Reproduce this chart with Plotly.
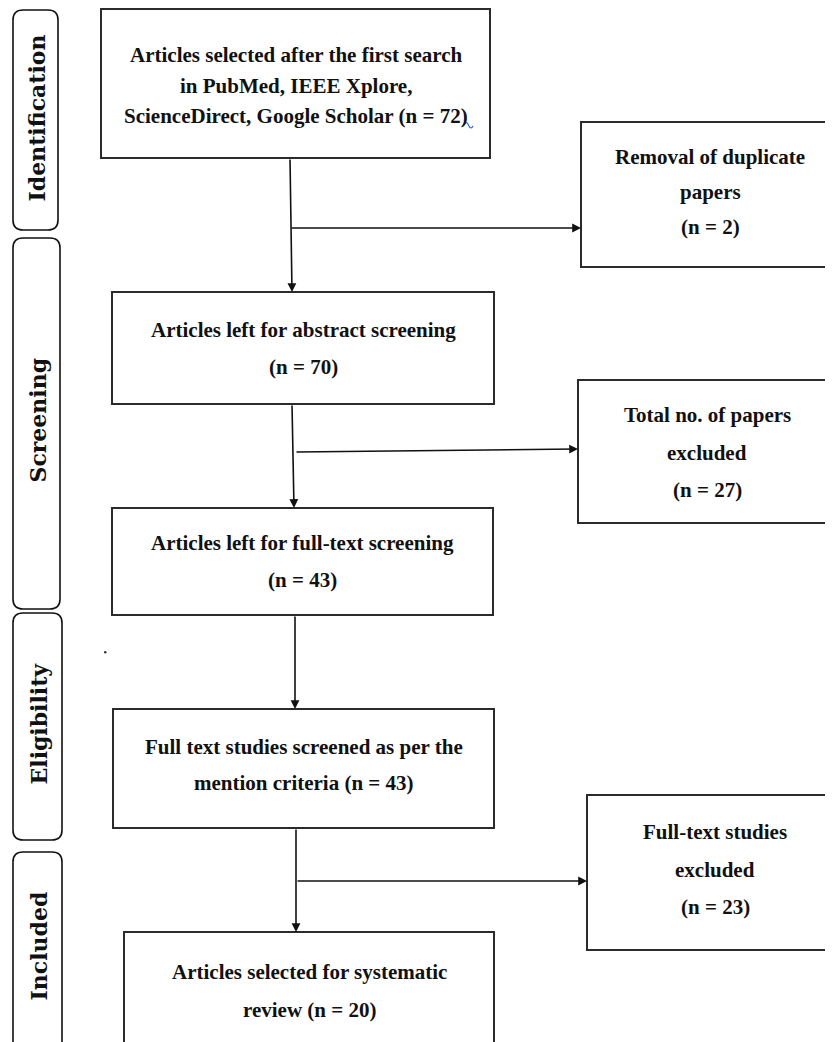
import plotly.graph_objects as go

# --- data ---
stage_labels = ["Identification", "Screening", "Eligibility", "Included"]

main_counts = [72, 70, 43, 43, 20]
main_texts = [
    ["Articles selected after the first search", "in PubMed, IEEE Xplore,", "ScienceDirect, Google Scholar (n = {})"],
    ["Articles left for abstract screening", "(n = {})"],
    ["Articles left for full-text screening", "(n = {})"],
    ["Full text studies screened as per the", "mention criteria (n = {})"],
    ["Articles selected for systematic", "review (n = {})"],
]

excl_counts = [2, 27, 23]
excl_texts = [
    ["Removal of duplicate", "papers", "(n = {})"],
    ["Total no. of papers", "excluded", "(n = {})"],
    ["Full-text studies", "excluded", "(n = {})"],
]

# --- layout geometry (pixels, y downwards) ---
W, H = 833, 1042
PAD = 8  # page body margin; the axes are offset so pixel coords match the window
stage_boxes = [(13, 58, 10, 230), (13, 60, 238, 609), (13, 62, 613, 840), (13, 62, 852, 1060)]
stage_text_y = [118, 420, 724, 946]

main_boxes = [(101, 490, 9, 158), (112, 494, 292, 404), (112, 493, 508, 615),
              (113, 494, 709, 828), (124, 494, 932, 1060)]
main_first = [55, 330, 543, 747, 972]
main_gap = [30.5, 37, 37, 36, 38]

excl_boxes = [(581, 860, 122, 267), (578, 860, 380, 523), (587, 860, 795, 950)]
excl_first = [157, 415, 832]
excl_gap = [35, 37.5, 37.5]
excl_cx = [710, 707, 715]

BORDER = "#2b2b2b"
TXT_FONT = dict(family="Liberation Serif, Times New Roman, serif", size=21, color="#111", weight="bold")
SIDE_FONT = dict(family="DejaVu Serif, serif", size=22, color="#111", weight="bold")


def rounded(x0, x1, y0, y1, r=10):
    return (f"M{x0+r},{y0} L{x1-r},{y0} Q{x1},{y0} {x1},{y0+r} L{x1},{y1-r} Q{x1},{y1} {x1-r},{y1} "
            f"L{x0+r},{y1} Q{x0},{y1} {x0},{y1-r} L{x0},{y0+r} Q{x0},{y0} {x0+r},{y0} Z")


fig = go.Figure()
fig.add_trace(go.Scatter(x=[0, W], y=[0, H], mode="markers", marker=dict(opacity=0), hoverinfo="skip", showlegend=False))

shapes = []
annotations = []

# stage side labels
for label, (x0, x1, y0, y1), ty in zip(stage_labels, stage_boxes, stage_text_y):
    shapes.append(dict(type="path", path=rounded(x0, x1, y0, y1), xref="x", yref="y",
                       line=dict(color="#111", width=1.6)))
    annotations.append(dict(x=(x0 + x1) / 2 + 1, y=ty, xref="x", yref="y", text=label, showarrow=False,
                            textangle=-90, font=SIDE_FONT))

# main boxes
for lines, n, (x0, x1, y0, y1), fy, gap in zip(main_texts, main_counts, main_boxes, main_first, main_gap):
    shapes.append(dict(type="rect", x0=x0, x1=x1, y0=y0, y1=y1, xref="x", yref="y",
                       line=dict(color=BORDER, width=2), fillcolor="white"))
    for i, ln in enumerate(lines):
        annotations.append(dict(x=(x0 + x1) / 2, y=fy + i * gap, xref="x", yref="y",
                                text=ln.format(n), showarrow=False, font=TXT_FONT))

# exclusion boxes
for lines, n, (x0, x1, y0, y1), fy, gap, cx in zip(excl_texts, excl_counts, excl_boxes, excl_first, excl_gap, excl_cx):
    shapes.append(dict(type="rect", x0=x0, x1=x1, y0=y0, y1=y1, xref="x", yref="y",
                       line=dict(color=BORDER, width=2), fillcolor="white"))
    for i, ln in enumerate(lines):
        annotations.append(dict(x=cx, y=fy + i * gap, xref="x", yref="y",
                                text=ln.format(n), showarrow=False, font=TXT_FONT))

# arrows: (tail x, tail y, head x, head y)
arrows = [
    (290, 158, 292, 292), (290, 228, 581, 228),
    (292, 404, 294, 508), (295, 452, 578, 449),
    (295, 615, 295, 709),
    (296, 828, 296, 932), (296, 881, 587, 881),
]
for ax_, ay_, hx, hy in arrows:
    annotations.append(dict(x=hx, y=hy, ax=ax_, ay=ay_, xref="x", yref="y", axref="x", ayref="y",
                            showarrow=True, arrowhead=2, arrowsize=1.1, arrowwidth=1.6,
                            arrowcolor="#111", standoff=0, text=""))

# stray dot and blue proofing mark from the source image
shapes.append(dict(type="circle", x0=104, x1=106.5, y0=651, y1=653.5, xref="x", yref="y",
                   fillcolor="#333", line=dict(width=0)))
shapes.append(dict(type="path", path="M463,126 Q466,119 469,126 Q471,130 473,126", xref="x", yref="y",
                   line=dict(color="#3355dd", width=1.2)))

fig.update_layout(
    width=W, height=H - PAD,
    margin=dict(l=0, r=0, t=0, b=0),
    paper_bgcolor="white", plot_bgcolor="white",
    xaxis=dict(range=[PAD, W + PAD], visible=False, fixedrange=True),
    yaxis=dict(range=[H, PAD], visible=False, fixedrange=True),
    shapes=shapes, annotations=annotations,
    showlegend=False,
)

fig.write_html("out.html")
